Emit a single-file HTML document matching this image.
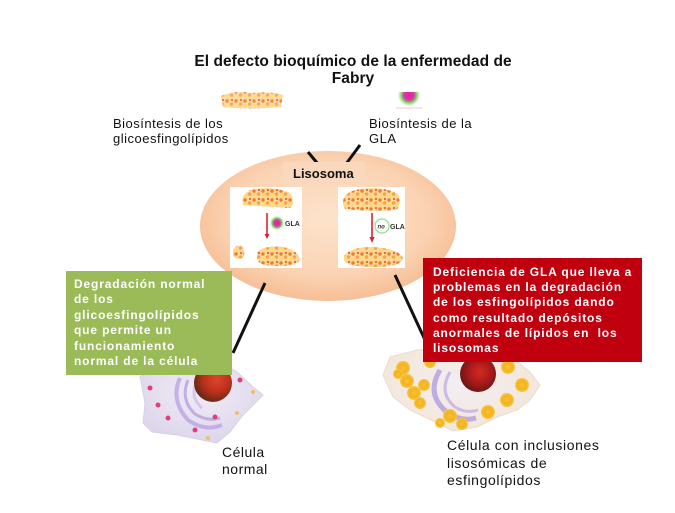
<!DOCTYPE html>
<html><head><meta charset="utf-8">
<style>
html,body{margin:0;padding:0;background:#fff;}
#c{position:relative;width:675px;height:513px;overflow:hidden;background:#fff;font-family:"Liberation Sans",Arial,sans-serif;}
.t{position:absolute;white-space:nowrap;color:#111;}
.title{left:0;width:706px;text-align:center;top:54px;font-size:15.5px;font-weight:bold;line-height:16.5px;letter-spacing:0.05px;}
.lbl{font-size:13px;line-height:15px;letter-spacing:0.5px;}
.box{position:absolute;color:#fff;font-weight:bold;font-size:12px;line-height:15.4px;letter-spacing:0.85px;white-space:nowrap;box-sizing:border-box;}
</style></head>
<body><div id="c">
<svg width="675" height="513" style="position:absolute;left:0;top:0">
<defs>
<pattern id="lip" width="9" height="9" patternUnits="userSpaceOnUse">
<rect width="9" height="9" fill="#fbd59a"/>
<circle cx="2" cy="2" r="1.7" fill="#f07a32"/>
<circle cx="6.5" cy="5" r="1.7" fill="#f4a445"/>
<circle cx="3" cy="7" r="1.3" fill="#ffe24a"/>
<circle cx="7" cy="1" r="1.1" fill="#e8622a"/>
<circle cx="5" cy="2.8" r="0.9" fill="#fff1a0"/>
</pattern>
<radialGradient id="ell" cx="50%" cy="45%" r="55%">
<stop offset="0" stop-color="#fde3cc"/>
<stop offset="0.7" stop-color="#fbd3b3"/>
<stop offset="1" stop-color="#f6be95"/>
</radialGradient>
<radialGradient id="ball" cx="50%" cy="50%" r="50%">
<stop offset="0" stop-color="#e81aa8"/>
<stop offset="0.45" stop-color="#d83aa0"/>
<stop offset="0.7" stop-color="#7dcf6a"/>
<stop offset="1" stop-color="#c8f0b8" stop-opacity="0.3"/>
</radialGradient>
<radialGradient id="nuc" cx="60%" cy="40%" r="60%">
<stop offset="0" stop-color="#e0452a"/>
<stop offset="0.6" stop-color="#b8301c"/>
<stop offset="1" stop-color="#6a2a18"/>
</radialGradient>
<radialGradient id="nuc2" cx="55%" cy="45%" r="60%">
<stop offset="0" stop-color="#d42a22"/>
<stop offset="0.6" stop-color="#a01818"/>
<stop offset="1" stop-color="#5a1a14"/>
</radialGradient>
<radialGradient id="cellL" cx="50%" cy="40%" r="60%">
<stop offset="0" stop-color="#f1ecf6"/>
<stop offset="1" stop-color="#ddd6ec"/>
</radialGradient>
<radialGradient id="cellR" cx="50%" cy="45%" r="60%">
<stop offset="0" stop-color="#f3eef3"/>
<stop offset="1" stop-color="#f4e6d6"/>
</radialGradient>
<radialGradient id="yb" cx="50%" cy="50%" r="50%">
<stop offset="0" stop-color="#f9c23a"/>
<stop offset="0.6" stop-color="#f5b21c"/>
<stop offset="1" stop-color="#f2c94a"/>
</radialGradient>
<clipPath id="topclip"><rect x="380" y="92" width="60" height="20"/></clipPath>
</defs>

<!-- top images -->
<path d="M221 96 Q235 90 252 93 Q270 91 283 95 L281 107 Q250 110 223 107 Z" fill="url(#lip)" opacity="0.9"/>
<g clip-path="url(#topclip)"><circle cx="409" cy="95" r="11" fill="url(#ball)"/></g>
<line x1="396" y1="108" x2="422" y2="108" stroke="#f1c7d3" stroke-width="1"/>

<!-- lysosome ellipse -->
<ellipse cx="328" cy="226" rx="128" ry="75" fill="url(#ell)"/>

<!-- top connector lines -->
<line x1="308" y1="152" x2="318" y2="164" stroke="#111" stroke-width="3"/>
<line x1="360" y1="145" x2="346" y2="164" stroke="#111" stroke-width="3"/>

<rect x="283" y="162" width="82" height="23" fill="#f9d8bd"/>

<!-- left panel -->
<rect x="230" y="187" width="72" height="81" fill="#fff"/>
<path d="M243 205 Q240 192 255 189 Q275 186 290 193 Q296 203 290 208 Z" fill="url(#lip)"/>
<line x1="267" y1="213" x2="267" y2="235" stroke="#e0202a" stroke-width="1.6"/>
<path d="M264.5 234 L267 239 L269.5 234 Z" fill="#e0202a"/>
<circle cx="277" cy="223" r="7" fill="url(#ball)"/>
<text x="285" y="226" font-family="Liberation Sans" font-weight="bold" font-size="7" fill="#333">GLA</text>
<path d="M233 250 Q236 244 242 246 Q246 252 243 258 Q236 260 233 256 Z" fill="url(#lip)"/>
<path d="M257 252 Q265 245 283 247 Q298 250 300 260 Q296 267 275 266 Q258 266 257 258 Z" fill="url(#lip)"/>

<!-- right panel -->
<rect x="338" y="187" width="67" height="81" fill="#fff"/>
<path d="M343 204 Q342 192 360 189 Q385 186 398 194 Q402 205 396 210 Q370 212 345 209 Z" fill="url(#lip)"/>
<line x1="372" y1="213" x2="372" y2="238" stroke="#e0202a" stroke-width="1.6"/>
<path d="M369.5 237 L372 243 L374.5 237 Z" fill="#e0202a"/>
<circle cx="382" cy="226" r="7" fill="#fff" stroke="#8ee08a" stroke-width="1.2"/>
<text x="377.5" y="228.5" font-family="Liberation Sans" font-style="italic" font-weight="bold" font-size="6" fill="#333">no</text>
<text x="390" y="229" font-family="Liberation Sans" font-weight="bold" font-size="7" fill="#333">GLA</text>
<path d="M344 256 Q350 247 372 247 Q398 248 403 258 Q402 267 375 267 Q346 267 344 260 Z" fill="url(#lip)"/>

<!-- bottom connector lines -->
<line x1="265" y1="283" x2="233" y2="353" stroke="#111" stroke-width="3"/>
<line x1="395" y1="275" x2="425" y2="340" stroke="#111" stroke-width="3"/>

<!-- left cell -->
<path d="M140 376 L185 366 L215 358 L237 372 L253 387 L263 395 L243 415 L230 432 L217 443 L177 435 L152 432 L143 423 L145 403 Z" fill="url(#cellL)" stroke="#d8d0e6" stroke-width="1"/>
<path d="M180 378 Q170 400 188 420 Q205 432 222 425" fill="none" stroke="#b59be0" stroke-width="4" opacity="0.7"/>
<path d="M188 380 Q180 400 195 414 Q208 422 220 418" fill="none" stroke="#a58ad8" stroke-width="3" opacity="0.6"/>
<path d="M196 383 Q190 398 202 408" fill="none" stroke="#c4b0ea" stroke-width="3" opacity="0.6"/>
<circle cx="213" cy="383" r="19" fill="url(#nuc)"/>
<circle cx="150" cy="388" r="2.5" fill="#e0407a"/><circle cx="158" cy="405" r="2.5" fill="#e0407a"/>
<circle cx="168" cy="418" r="2.5" fill="#e0407a"/><circle cx="195" cy="430" r="2.5" fill="#e0407a"/>
<circle cx="215" cy="417" r="2.5" fill="#e0407a"/><circle cx="240" cy="380" r="2.5" fill="#e0407a"/>
<circle cx="237" cy="413" r="2" fill="#f0c060"/><circle cx="253" cy="392" r="2" fill="#f0c060"/>
<circle cx="208" cy="438" r="2" fill="#f0c060"/>

<!-- right cell -->
<path d="M383 375 L390 357 L417 350 L470 345 L513 358 L530 372 L540 385 L530 400 L517 410 L497 417 L477 427 L453 431 L433 421 L410 410 L393 397 Z" fill="url(#cellR)" stroke="#eadccf" stroke-width="1"/>
<path d="M440 370 Q425 395 448 413 Q462 422 476 418" fill="none" stroke="#9c84dc" stroke-width="5" opacity="0.6"/>
<path d="M450 372 Q438 393 455 407 Q466 414 478 410" fill="none" stroke="#b09ae6" stroke-width="3" opacity="0.6"/>
<circle cx="478" cy="374" r="18" fill="url(#nuc2)"/>
<g fill="url(#yb)">
<circle cx="403" cy="368" r="7"/><circle cx="407" cy="381" r="7"/><circle cx="414" cy="393" r="7"/>
<circle cx="424" cy="385" r="6"/><circle cx="420" cy="403" r="6"/><circle cx="450" cy="416" r="7"/>
<circle cx="462" cy="424" r="6"/><circle cx="488" cy="412" r="7"/><circle cx="507" cy="400" r="7"/>
<circle cx="522" cy="385" r="7"/><circle cx="508" cy="367" r="7"/><circle cx="430" cy="362" r="6"/>
<circle cx="398" cy="374" r="5"/><circle cx="440" cy="423" r="5"/>
</g>
</svg>

<div class="t title">El defecto bioquímico de la enfermedad de<br>Fabry</div>
<div class="t lbl" style="left:113px;top:116px;">Biosíntesis de los<br>glicoesfingolípidos</div>
<div class="t lbl" style="left:369px;top:116px;">Biosíntesis de la<br>GLA</div>
<div class="t" style="left:293px;top:166px;font-size:13px;font-weight:bold;">Lisosoma</div>

<div class="box" style="left:66px;top:271px;width:166px;height:104px;background:#9bbb59;padding:6px 0 0 8px;">Degradación normal<br>de los<br>glicoesfingolípidos<br>que permite un<br>funcionamiento<br>normal de la célula</div>

<div class="box" style="left:423px;top:258px;width:219px;height:104px;background:#c0000f;padding:7px 0 0 10px;line-height:15.2px;">Deficiencia de GLA que lleva a<br>problemas en la degradación<br>de los esfingolípidos dando<br>como resultado depósitos<br>anormales de lípidos en &nbsp;los<br>lisosomas</div>

<div class="t" style="left:222px;top:444px;font-size:14px;line-height:17px;letter-spacing:0.5px;">Célula<br>normal</div>
<div class="t" style="left:447px;top:437px;font-size:14px;line-height:17.5px;letter-spacing:0.6px;">Célula con inclusiones<br>lisosómicas de<br>esfingolípidos</div>
</div></body></html>
